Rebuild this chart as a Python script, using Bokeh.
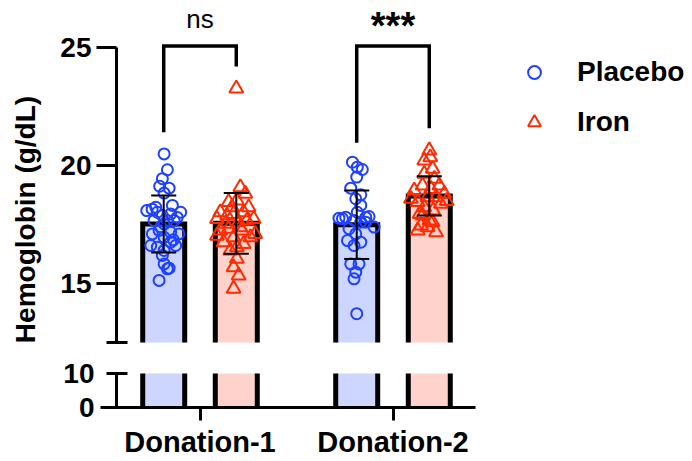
import math
from bokeh.plotting import figure
from bokeh.models import (Range1d, LinearAxis, FixedTicker, Legend, LegendItem,
                          Label, ColumnDataSource)
from bokeh.layouts import column
from bokeh.embed import file_html
from bokeh.resources import INLINE
from bokeh.core.properties import value

# ---------------- data ----------------
groups = ["Donation-1", "Donation-2"]
series = ["Placebo", "Iron"]

placebo_mean = [17.52, 17.49]
placebo_sd = [1.21, 1.45]
iron_mean = [17.55, 18.71]
iron_sd = [1.29, 0.83]

placebo_d1 = [20.49, 19.82, 19.44, 19.12, 19.04, 18.83, 18.09, 18.23, 18.02, 18.31,
              18.02, 17.95, 17.88, 17.67, 17.67, 17.67, 17.53, 17.25, 17.17, 17.10,
              17.10, 16.96, 16.61, 16.54, 16.61, 16.75, 16.40, 16.19, 15.83, 15.62,
              15.65, 15.13, 18.15, 17.80, 17.40, 16.85]
placebo_d1_jitter = [0.002, 0.019, -0.007, -0.021, 0.028, 0.002, -0.088, -0.041, -0.033, 0.045,
                     0.088, 0.036, -0.007, -0.050, 0.054, 0.019, 0.002, -0.024, 0.036, -0.059,
                     0.079, 0.002, -0.067, -0.033, 0.062, 0.036, 0.002, -0.007, 0.002, 0.019,
                     0.028, -0.024, -0.060, 0.070, -0.015, 0.050]

iron_d1 = [23.26, 19.08, 18.80, 18.45, 18.52, 18.23, 18.23, 18.02, 17.74, 17.88,
           17.95, 18.02, 17.74, 17.67, 17.60, 17.53, 17.39, 17.25, 17.03, 17.32,
           17.25, 17.10, 16.96, 16.96, 16.75, 16.68, 16.54, 16.40, 16.05, 15.69,
           15.34, 14.78]
iron_d1_jitter = [0.000, 0.021, 0.047, -0.040, 0.003, 0.064, -0.022, -0.083, -0.100, -0.048,
                  -0.014, 0.038, 0.090, 0.055, 0.012, -0.057, 0.021, -0.083, -0.100, -0.040,
                  0.029, 0.098, 0.073, -0.014, -0.066, 0.038, 0.003, -0.031, 0.003, -0.014,
                  0.012, -0.014]

placebo_d2 = [20.14, 19.93, 19.83, 19.51, 19.04, 18.76, 18.59, 18.31, 18.02, 17.77,
              17.81, 17.84, 17.39, 17.67, 17.60, 17.32, 17.10, 16.82, 16.75, 16.61,
              15.83, 15.83, 15.48, 15.20, 13.72, 17.75, 17.80, 17.60]
placebo_d2_jitter = [-0.022, 0.003, 0.029, 0.000, -0.031, 0.021, -0.005, 0.021, 0.003, -0.092,
                     -0.057, 0.064, 0.090, -0.014, 0.021, -0.040, -0.005, -0.048, 0.021, -0.014,
                     -0.031, 0.012, -0.005, -0.014, 0.000, -0.074, 0.047, 0.047]

iron_d2 = [20.64, 20.35, 20.21, 19.86, 19.65, 19.44, 19.15, 18.94, 19.15, 19.01,
           18.80, 18.59, 18.66, 18.66, 18.45, 18.23, 18.38, 17.88, 17.67, 17.46,
           17.17, 17.39, 17.60, 17.25, 18.10, 17.95, 18.50]
iron_d2_jitter = [0.000, 0.005, -0.026, 0.017, -0.026, 0.026, 0.052, -0.078, -0.035, 0.009,
                  0.078, -0.095, -0.009, 0.035, -0.060, -0.026, 0.060, -0.035, 0.000, -0.043,
                  0.035, -0.009, 0.017, -0.060, 0.020, -0.050, 0.090]

# significance brackets
sig_labels = ["ns", "***"]
bracket_top = [25.06, 25.06]
bracket_left_end = [21.41, 20.96]
bracket_right_end = [24.19, 21.58]

y_ticks_upper = [15, 20, 25]
y_ticks_lower = [0, 10]
y_break_low, y_break_high = 10, 12.5
y_top = 25

# ---------------- style / layout ----------------
FONT = "Liberation Sans"
BLUE = "#1E40FF"
RED = "#FF2A00"
BLUE_FILL = "#CCD6FF"
RED_FILL = "#FFD3CC"

W = 692
PXX = 193.0                      # px per group unit
X0 = 1 - 199.5 / PXX             # canvas/frame left edge
x_range = Range1d(X0, X0 + W / PXX)
AXIS_X = X0 + 116 / PXX          # y-axis position
XAXIS_BOUNDS = (X0 + 100 / PXX, X0 + 475 / PXX)
BAR_OFF = 0.188
BAR_W = 0.2176
CAP = 0.065

TOP_H = 346
PXY_TOP = 23.6
y0_top = y_break_high - 4 / PXY_TOP
top_range = Range1d(y0_top, y0_top + TOP_H / PXY_TOP)

BOT_H = 115
PXY_BOT = 3.4
y1_bot = y_break_low + 27 / PXY_BOT
bot_range = Range1d(y1_bot - BOT_H / PXY_BOT, y1_bot)


def make_fig(h, yr):
    f = figure(width=W, height=h, x_range=x_range, y_range=yr,
               output_backend="svg", toolbar_location=None,
               x_axis_location=None, y_axis_location=None,
               min_border_left=0, min_border_right=0,
               min_border_top=0, min_border_bottom=0,
               outline_line_color=None, background_fill_color="white",
               border_fill_color="white")
    f.grid.visible = False
    return f


def style_axis(ax, tick_out, tick_in, standoff, size="28px"):
    ax.axis_line_width = 3
    ax.axis_line_color = "black"
    ax.major_tick_line_width = 3
    ax.major_tick_line_color = "black"
    ax.major_tick_out = tick_out
    ax.major_tick_in = tick_in
    ax.minor_tick_out = 0
    ax.minor_tick_in = 0
    ax.major_label_standoff = standoff
    ax.major_label_text_font = FONT
    ax.major_label_text_font_style = "bold"
    ax.major_label_text_font_size = size
    ax.major_label_text_color = "black"


top = make_fig(TOP_H, top_range)
bot = make_fig(BOT_H, bot_range)

gx = [i + 1 for i in range(len(groups))]
px = [g - BAR_OFF for g in gx]
ix = [g + BAR_OFF for g in gx]
bar_x = px + ix
bar_m = placebo_mean + iron_mean
bar_fill = [BLUE_FILL] * len(px) + [RED_FILL] * len(ix)
hw = BAR_W / 2

# upper panel bars: fill down to the break, outline open at the break
top.vbar(x=bar_x, top=bar_m, bottom=y_break_high, width=BAR_W, fill_color=bar_fill,
         line_alpha=0)
top.multi_line([[x - hw, x - hw, x + hw, x + hw] for x in bar_x],
               [[y_break_high, m, m, y_break_high] for m in bar_m],
               line_color="black", line_width=5, line_join="miter")
# lower panel bars: from 0 up to the break
bot.vbar(x=bar_x, top=[min(m, y_break_low) for m in bar_m], bottom=0, width=BAR_W,
         fill_color=bar_fill, line_alpha=0)
bot.multi_line([[x + d, x + d] for x in bar_x for d in (-hw, hw)],
               [[0, min(m, y_break_low)] for m in bar_m for _ in (0, 1)],
               line_color="black", line_width=5)

# points
pxs = [px[0] + j for j in placebo_d1_jitter] + [px[1] + j for j in placebo_d2_jitter]
pys = placebo_d1 + placebo_d2
ixs = [ix[0] + j for j in iron_d1_jitter] + [ix[1] + j for j in iron_d2_jitter]
iys = iron_d1 + iron_d2
rc = top.scatter(pxs, pys, marker="circle", size=11, line_color=BLUE, line_width=2,
                 fill_alpha=0)
rt = top.scatter(ixs, iys, marker="triangle", size=14, line_color=RED, line_width=2,
                 fill_alpha=0)

# error bars (mean +/- SD)
es = placebo_sd + iron_sd
lo = [m - s for m, s in zip(bar_m, es)]
hi = [m + s for m, s in zip(bar_m, es)]
top.segment(x0=bar_x, y0=lo, x1=bar_x, y1=hi, line_color="black", line_width=2)
top.segment(x0=[x - CAP for x in bar_x] * 2, y0=lo + hi,
            x1=[x + CAP for x in bar_x] * 2, y1=lo + hi,
            line_color="black", line_width=2)

# significance brackets
bxs = [[px[i], px[i], ix[i], ix[i]] for i in range(len(groups))]
bys = [[bracket_left_end[i], bracket_top[i], bracket_top[i], bracket_right_end[i]]
       for i in range(len(groups))]
top.multi_line(bxs, bys, line_color="black", line_width=3.5, line_join="miter")
sig_src = ColumnDataSource(dict(x=gx, y=bracket_top, text=sig_labels,
                                size=["26px", "38px"], style=["normal", "bold"],
                                yoff=[-27, -20]))
top.text(x="x", y="y", text="text", source=sig_src, text_font=value(FONT),
         text_font_size="size", text_font_style="style", y_offset="yoff",
         text_align="center", text_baseline="middle", text_color="black")

# axes
ax_up = LinearAxis(fixed_location=AXIS_X, bounds=(y_break_high, y_top),
                   ticker=FixedTicker(ticks=y_ticks_upper))
style_axis(ax_up, 20, 0, 5)
top.add_layout(ax_up, "left")
ax_brk = LinearAxis(fixed_location=AXIS_X, ticker=FixedTicker(ticks=[y_break_high]),
                    major_label_overrides={y_break_high: ""})
style_axis(ax_brk, 10, 11, 5)
ax_brk.axis_line_alpha = 0
top.add_layout(ax_brk, "left")

ax_low = LinearAxis(fixed_location=AXIS_X, bounds=(0, y_break_low),
                    ticker=FixedTicker(ticks=y_ticks_lower))
style_axis(ax_low, 10, 11, 12)
bot.add_layout(ax_low, "left")

ax_x = LinearAxis(fixed_location=0, bounds=XAXIS_BOUNDS,
                  ticker=FixedTicker(ticks=gx),
                  major_label_overrides={g: name for g, name in zip(gx, groups)})
style_axis(ax_x, 13, 0, 5, size="29px")
bot.add_layout(ax_x, "below")

# y label
top.add_layout(Label(x=25, y=TOP_H - 219, x_units="screen", y_units="screen",
                     text="Hemoglobin (g/dL)", angle=math.pi / 2,
                     text_align="center", text_baseline="middle",
                     text_font=FONT, text_font_size="28px", text_font_style="bold",
                     text_color="black"))

legend = Legend(items=[LegendItem(label=series[0], renderers=[rc]),
                       LegendItem(label=series[1], renderers=[rt])],
                location=(518, TOP_H - 142), orientation="vertical",
                glyph_width=32, glyph_height=40, label_height=40,
                label_standoff=27, spacing=10, padding=0, margin=0,
                border_line_color=None, background_fill_alpha=0,
                label_text_font=FONT, label_text_font_style="bold",
                label_text_font_size="28px", label_text_color="black")
top.add_layout(legend)

layout = column(top, bot)
open("out.html", "w").write(file_html(layout, INLINE))
